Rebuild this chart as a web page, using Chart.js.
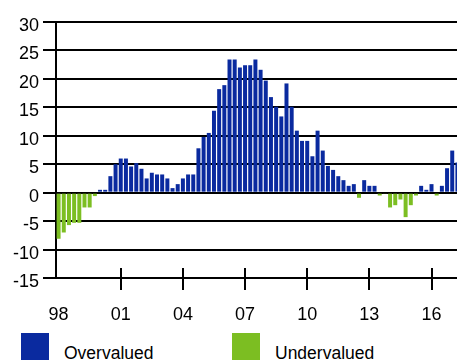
<!DOCTYPE html>
<html>
<head>
<meta charset="utf-8">
<script src="https://cdn.jsdelivr.net/npm/chart.js@4.4.0/dist/chart.umd.min.js"></script>
<style>
  html, body { margin: 0; padding: 0; overflow: hidden; background: #fff; }
  #wrap { position: relative; width: 457px; height: 362px; overflow: hidden; }
  #chart { position: absolute; left: 0; top: 0; }
  .swatch { position: absolute; width: 28px; height: 27px; }
  .key { position: absolute; font-family: "Liberation Sans", Arial, sans-serif; font-size: 17.5px; line-height: 17.5px; color: #000; white-space: nowrap; }
</style>
</head>
<body>
<div id="wrap">
  <canvas id="chart" width="460" height="325"></canvas>
  <div class="swatch" id="sw0" style="left:21px;top:333px"></div>
  <div class="key" id="key0" style="left:64px;top:345px"></div>
  <div class="swatch" id="sw1" style="left:232px;top:333px"></div>
  <div class="key" id="key1" style="left:275px;top:345px"></div>
</div>
<script>
// quarterly gap, 1998Q1 .. 2017Q2 (%)
var values = [
  -8.1, -7.0, -5.7, -5.3, -5.3, -2.6, -2.6, -0.6,
   0.5,  0.5,  2.9,  5.0,  6.0,  6.0,  4.6,  5.2,
   4.2,  2.5,  3.5,  3.2,  3.2,  2.5,  0.8,  1.5,
   2.5,  3.2,  3.2,  7.8,  9.8, 10.5, 14.4, 18.2,
  18.9, 23.4, 23.4, 22.0, 22.4, 22.4, 23.4, 21.6,
  19.7, 16.8, 15.1, 13.4, 19.2, 15.1, 10.9,  9.1,
   9.1,  6.4, 10.9,  7.4,  4.7,  4.0,  2.9,  2.2,
   1.2,  1.5, -0.9,  2.2,  1.2,  1.2, -0.5, -0.2,
  -2.6, -2.2, -1.2, -4.3, -2.2, -0.5,  1.2,  0.5,
   1.5, -0.5,  1.2,  4.3,  7.4,  5.3
];
var yearTicks = ['98', '01', '04', '07', '10', '13', '16'];
var seriesNames = ['Overvalued', 'Undervalued'];
var seriesColors = ['#0a2a9f', '#7cbe22'];

var quarters = [];
for (var i = 0; i < values.length; i++) {
  quarters.push((1998 + Math.floor(i / 4)) + 'Q' + (i % 4 + 1));
}
var over = values.map(function (v) { return v > 0 ? v : null; });
var under = values.map(function (v) { return v < 0 ? v : null; });

var font = { family: '"Liberation Sans", Arial, sans-serif', size: 18 };

// legend
for (var k = 0; k < 2; k++) {
  document.getElementById('sw' + k).style.background = seriesColors[k];
  document.getElementById('key' + k).textContent = seriesNames[k];
}

// tick marks crossing the x axis, every 3 years (none on the first one)
var tickMarks = {
  id: 'tickMarks',
  afterDraw: function (chart) {
    var xs = chart.scales.x, ctx = chart.ctx, b = chart.chartArea.bottom;
    ctx.save();
    ctx.strokeStyle = '#000';
    ctx.lineWidth = 2;
    for (var t = 1; t < yearTicks.length; t++) {
      var px = Math.round(xs.getPixelForValue(t * 12));
      ctx.beginPath();
      ctx.moveTo(px, b - 10);
      ctx.lineTo(px, b + 12);
      ctx.stroke();
    }
    ctx.restore();
  }
};

new Chart(document.getElementById('chart'), {
  type: 'bar',
  data: {
    labels: quarters,
    datasets: [
      { label: seriesNames[0], data: over, backgroundColor: seriesColors[0] },
      { label: seriesNames[1], data: under, backgroundColor: seriesColors[1] }
    ]
  },
  options: {
    responsive: false,
    animation: false,
    layout: { padding: { top: 22, left: 0, right: 0, bottom: 0 } },
    datasets: { bar: { grouped: false, barPercentage: 0.77, categoryPercentage: 1 } },
    plugins: { legend: { display: false }, tooltip: { enabled: false } },
    scales: {
      x: {
        ticks: {
          autoSkip: false, maxRotation: 0, minRotation: 0, padding: 26,
          color: '#000', font: font,
          callback: function (v, i) { return i % 12 === 0 ? yearTicks[i / 12] : ''; }
        },
        grid: { display: false, drawTicks: false, offset: false },
        border: { display: true, color: '#000', width: 2 },
        afterFit: function (s) { s.height = 47; s.paddingLeft = 0; s.paddingRight = 0; }
      },
      y: {
        min: -15, max: 30, z: 1,
        ticks: { stepSize: 5, color: '#000', font: font, padding: 4, labelOffset: 4 },
        grid: { color: '#000', lineWidth: 2, tickLength: 13 },
        border: { display: true, color: '#000', width: 2 },
        afterFit: function (s) { s.width = 56; }
      }
    }
  },
  plugins: [tickMarks]
});
</script>
</body>
</html>
